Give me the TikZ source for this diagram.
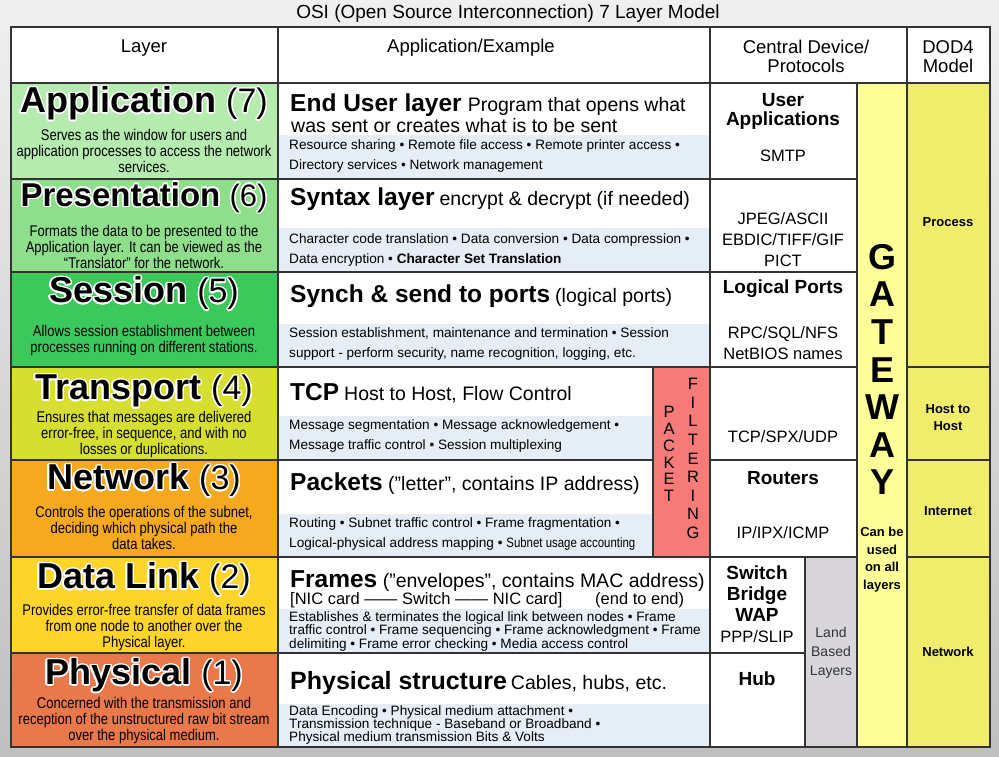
\documentclass[tikz,border=0pt]{standalone}
\usepackage{fontspec}
\setmainfont{Liberation Sans}
\newfontfamily\narrowfont[FakeStretch=0.84]{Liberation Sans}
\usepackage{contour}
\contourlength{1.4pt}
\usetikzlibrary{positioning}

\definecolor{appgreen}{HTML}{B6EBB0}
\definecolor{presgreen}{HTML}{8FDE8C}
\definecolor{sessgreen}{HTML}{3CC95C}
\definecolor{transyellow}{HTML}{D6DF2F}
\definecolor{netorange}{HTML}{F6A81F}
\definecolor{linkyellow}{HTML}{FDD42A}
\definecolor{physorange}{HTML}{E9794B}
\definecolor{pfred}{HTML}{F47B78}
\definecolor{gateyellow}{HTML}{FFFF9A}
\definecolor{dodyellow}{HTML}{F0EC6C}
\definecolor{bandblue}{HTML}{E5EDF6}
\definecolor{landgray}{HTML}{D8D6DA}

\newcommand\setsize[2]{\fontsize{#1}{#2}\selectfont}
\newcommand\lnum[1]{{\mdseries\setsize{34}{40}#1}}

\begin{document}
\begin{tikzpicture}[x=1pt, y=-1pt,
    cell/.style={draw=black!80, line width=1.3pt},
    lname/.style={inner sep=0pt, font=\bfseries\setsize{36}{40}},
    ldesc/.style={align=center, inner sep=0pt, font=\narrowfont\setsize{15.5}{16}},
    ehead/.style={anchor=west, inner sep=0pt, font=\setsize{19.5}{22}},
    eline/.style={anchor=west, align=left, inner sep=0pt, font=\setsize{13.6}{20}},
    dev/.style={align=center, inner sep=0pt, font=\setsize{16.5}{21}},
    devb/.style={align=center, inner sep=0pt, font=\bfseries\setsize{19}{19}},
    dod/.style={align=center, inner sep=0pt, font=\bfseries\setsize{13}{17.6}},
    head/.style={align=center, inner sep=0pt, font=\setsize{18.5}{19}},
    gate/.style={inner sep=0pt, font=\bfseries\setsize{36}{36}},
    pf/.style={inner sep=0pt, font=\setsize{16.5}{16}}]

    \shade[top color=black!6, bottom color=black!25] (0,0) rectangle (999,756);
    \useasboundingbox (0,0) rectangle (999,756);

    % header row
    \draw[cell, fill=white] (11,27) rectangle (278,83);
    \draw[cell, fill=white] (278,27) rectangle (710,83);
    \draw[cell, fill=white] (710,27) rectangle (907,83);
    \draw[cell, fill=white] (907,27) rectangle (990,83);
    \node[head, font=\setsize{19}{19}] (title) at (508,14) {OSI (Open Source Interconnection) 7 Layer Model};
    \node[head] (hlayer) at (144,48) {Layer};
    \node[head] (happ) at (471,48) {Application/Example};
    \node[head] (hdev) at (806,56.5) {Central Device/\\Protocols};
    \node[head] (hdod) at (948,56.5) {DOD4\\Model};

    % layer column
    \draw[cell, fill=appgreen] (11,83) rectangle (278,179);
    \draw[cell, fill=presgreen] (11,179) rectangle (278,272);
    \draw[cell, fill=sessgreen] (11,272) rectangle (278,367);
    \draw[cell, fill=transyellow] (11,367) rectangle (278,460);
    \draw[cell, fill=netorange] (11,460) rectangle (278,557);
    \draw[cell, fill=linkyellow] (11,557) rectangle (278,653);
    \draw[cell, fill=physorange] (11,653) rectangle (278,747);

    \node[lname] (l7) at (144,104) {\contour{white}{Application \lnum{(7)}}};
    \node[ldesc] (l7d) at (144,151) {Serves as the window for users and\\application processes to access the network\\services.};
    \node[lname, font=\bfseries\setsize{33}{40}] (l6) at (144,198) {\contour{white}{Presentation {\mdseries\setsize{31}{40}(6)}}};
    \node[ldesc] (l6d) at (144,247) {Formats the data to be presented to the\\Application layer. It can be viewed as the\\“Translator” for the network.};
    \node[lname] (l5) at (144,294) {\contour{white}{Session \lnum{(5)}}};
    \node[ldesc] (l5d) at (144,340) {Allows session establishment between\\processes running on different stations.};
    \node[lname] (l4) at (144,392) {\contour{white}{Transport \lnum{(4)}}};
    \node[ldesc] (l4d) at (144,434) {Ensures that messages are delivered\\error-free, in sequence, and with no\\losses or duplications.};
    \node[lname] (l3) at (144,481) {\contour{white}{Network \lnum{(3)}}};
    \node[ldesc] (l3d) at (144,528) {Controls the operations of the subnet,\\deciding which physical path the\\data takes.};
    \node[lname] (l2) at (144,580) {\contour{white}{Data Link \lnum{(2)}}};
    \node[ldesc] (l2d) at (144,627) {Provides error-free transfer of data frames\\from one node to another over the\\Physical layer.};
    \node[lname] (l1) at (144,676) {\contour{white}{Physical \lnum{(1)}}};
    \node[ldesc] (l1d) at (144,720) {Concerned with the transmission and\\reception of the unstructured raw bit stream\\over the physical medium.};

    % application / example column
    \draw[cell, fill=white] (278,83) rectangle (710,179);
    \draw[cell, fill=white] (278,179) rectangle (710,272);
    \draw[cell, fill=white] (278,272) rectangle (710,367);
    \draw[cell, fill=white] (278,367) rectangle (653,460);
    \draw[cell, fill=white] (278,460) rectangle (653,557);
    \draw[cell, fill=white] (278,557) rectangle (710,653);
    \draw[cell, fill=white] (278,653) rectangle (710,747);
    \fill[bandblue] (278.7,135) rectangle (709.3,178.3);
    \fill[bandblue] (278.7,228) rectangle (709.3,271.3);
    \fill[bandblue] (278.7,324) rectangle (709.3,366.3);
    \fill[bandblue] (278.7,416) rectangle (652.3,459.3);
    \fill[bandblue] (278.7,514) rectangle (652.3,556.3);
    \fill[bandblue] (278.7,609) rectangle (709.3,652.3);
    \fill[bandblue] (278.7,704) rectangle (709.3,746.3);

    \node[ehead] (e7) at (290,105) {{\bfseries\setsize{24.5}{24}End User layer}\hspace{6pt}Program that opens what};
    \node[ehead] (e7b) at (291,126) {was sent or creates what is to be sent};
    \node[eline] (e7c) at (289,156) {Resource sharing • Remote file access • Remote printer access •\\Directory services • Network management};
    \node[ehead] (e6) at (290,199) {{\bfseries\setsize{24.5}{24}Syntax layer}\hspace{5pt}encrypt \& decrypt (if needed)};
    \node[eline] (e6c) at (289,249.5) {Character code translation • Data conversion • Data compression •\\Data encryption • \textbf{Character Set Translation}};
    \node[ehead] (e5) at (290,296) {{\bfseries\setsize{24.5}{24}Synch \& send to ports}\hspace{5pt}(logical ports)};
    \node[eline] (e5c) at (289,344) {Session establishment, maintenance and termination • Session\\support - perform security, name recognition, logging, etc.};
    \node[ehead] (e4) at (290,393) {{\bfseries\setsize{24.5}{24}TCP}\hspace{5pt}Host to Host, Flow Control};
    \node[eline] (e4c) at (289,436) {Message segmentation • Message acknowledgement •\\Message traffic control • Session multiplexing};
    \node[ehead] (e3) at (290,484) {{\bfseries\setsize{24.5}{24}Packets} ("letter", contains IP address)};
    \node[eline] (e3c) at (289,534) {Routing • Subnet traffic control • Frame fragmentation •\\Logical-physical address mapping • {\narrowfont Subnet usage accounting}};
    \node[ehead] (e2) at (290,581) {{\bfseries\setsize{24.5}{24}Frames} ("envelopes", contains MAC address)};
    \node[ehead, font=\setsize{16.5}{18}] (e2b) at (290,600) {[NIC card —— Switch —— NIC card]};
    \node[ehead, font=\setsize{16.5}{18}] (e2e) at (595,600) {(end to end)};
    \node[eline, font=\setsize{13.6}{13.5}] (e2c) at (289,631) {Establishes \& terminates the logical link between nodes • Frame\\traffic control • Frame sequencing • Frame acknowledgment • Frame\\delimiting • Frame error checking • Media access control};
    \node[ehead] (e1) at (290,683) {{\bfseries\setsize{25}{24}Physical structure}\hspace{4pt}Cables, hubs, etc.};
    \node[eline, font=\setsize{13.6}{13}] (e1c) at (289,725) {Data Encoding • Physical medium attachment •\\Transmission technique - Baseband or Broadband •\\Physical medium transmission Bits \& Volts};

    % packet filtering
    \draw[cell, fill=pfred] (653,367) rectangle (710,557);
    \foreach \ch [count=\i] in {P,A,C,K,E,T}
        \node[pf] (pk\i) at (669,{412+16.8*(\i-1)}) {\ch};
    \foreach \ch [count=\i] in {F,I,L,T,E,R,I,N,G}
        \node[pf] (fi\i) at (693,{384+18.6*(\i-1)}) {\ch};

    % central device / protocols
    \draw[cell, fill=white] (710,83) rectangle (857,179);
    \draw[cell, fill=white] (710,179) rectangle (857,272);
    \draw[cell, fill=white] (710,272) rectangle (857,367);
    \draw[cell, fill=white] (710,367) rectangle (857,460);
    \draw[cell, fill=white] (710,460) rectangle (857,557);
    \draw[cell, fill=white] (710,557) rectangle (805,653);
    \draw[cell, fill=white] (710,653) rectangle (805,747);
    \draw[cell, fill=landgray] (805,557) rectangle (857,747);

    \node[devb] (d7) at (783,111) {User\\Applications};
    \node[dev] (d7b) at (783,156) {SMTP};
    \node[dev] (d6) at (783,240) {JPEG/ASCII\\EBDIC/TIFF/GIF\\PICT};
    \node[devb] (d5) at (783,289) {Logical Ports};
    \node[dev] (d5b) at (783,343.5) {RPC/SQL/NFS\\NetBIOS names};
    \node[dev] (d4) at (783,437) {TCP/SPX/UDP};
    \node[devb] (d3) at (783,478) {Routers};
    \node[dev] (d3b) at (783,533) {IP/IPX/ICMP};
    \node[devb, font=\bfseries\setsize{19}{21}] (d2) at (757,594) {Switch\\Bridge\\WAP};
    \node[dev] (d2b) at (757,637) {PPP/SLIP};
    \node[devb] (d1) at (757,679) {Hub};
    \node[dev, font=\setsize{14}{19}, text=black!80] (land) at (831,653) {Land\\Based\\Layers};

    % gateway
    \draw[cell, fill=gateyellow] (857,83) rectangle (907,747);
    \foreach \ch [count=\i] in {G,A,T,E,W,A,Y}
        \node[gate] (gw\i) at (882,{257+37.6*(\i-1)}) {\ch};
    \node[dod] (gwnote) at (882,559.5) {Can be\\used\\on all\\layers};

    % DOD4 model
    \draw[cell, fill=dodyellow] (907,83) rectangle (990,367);
    \draw[cell, fill=dodyellow] (907,367) rectangle (990,460);
    \draw[cell, fill=dodyellow] (907,460) rectangle (990,557);
    \draw[cell, fill=dodyellow] (907,557) rectangle (990,747);
    \node[dod] (dod1) at (948,222) {Process};
    \node[dod] (dod2) at (948,417.5) {Host to\\Host};
    \node[dod] (dod3) at (948,511) {Internet};
    \node[dod] (dod4) at (948,652) {Network};
\end{tikzpicture}
\end{document}
